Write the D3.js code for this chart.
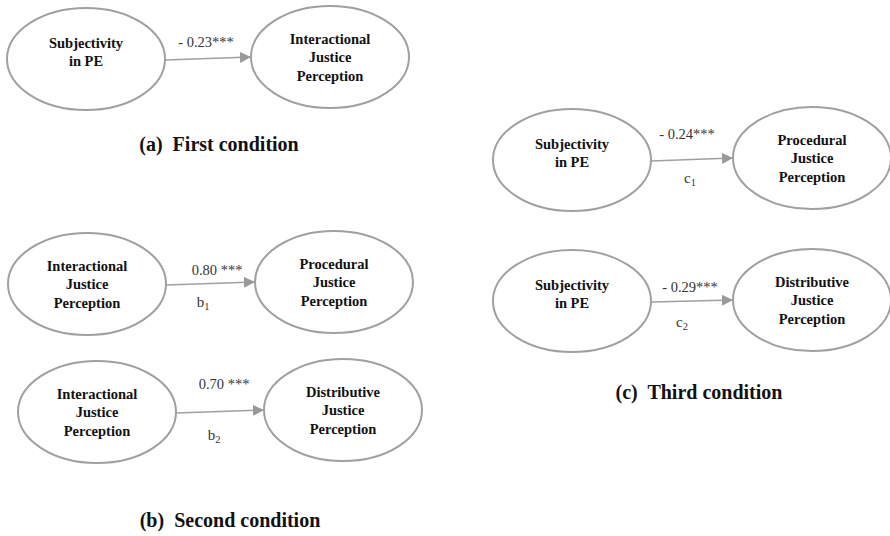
<!DOCTYPE html>
<html><head><meta charset="utf-8">
<script src="https://cdn.jsdelivr.net/npm/d3@7"></script>
<style>body{margin:0;background:#fff}svg{display:block}text{font-family:"Liberation Serif",serif}</style>
</head><body>
<script>
// ---- data ----
const sourceLabels = [["Subjectivity","in PE"],["Interactional","Justice","Perception"],["Interactional","Justice","Perception"],["Subjectivity","in PE"],["Subjectivity","in PE"]];
const targetLabels = [["Interactional","Justice","Perception"],["Procedural","Justice","Perception"],["Distributive","Justice","Perception"],["Procedural","Justice","Perception"],["Distributive","Justice","Perception"]];
const coefficients = ["- 0.23***","0.80 ***","0.70 ***","- 0.24***","- 0.29***"];
const pathNames = [null,["b","1"],["b","2"],["c","1"],["c","2"]];
const panelTitles = ["(a)  First condition","(b)  Second condition","(c)  Third condition"];

// ---- layout (kept separate from data) ----
const layout = [
  {sx:86, sy:59, tx:330, ty:57, lx:206, ly:47, px:null, py:null},
  {sx:87, sy:284, tx:334, ty:282, lx:217, ly:275, px:203, py:307},
  {sx:97, sy:412, tx:343, ty:410, lx:224, ly:389, px:214, py:440},
  {sx:572, sy:160, tx:812, ty:158, lx:687, ly:139, px:690, py:183},
  {sx:572, sy:301, tx:812, ty:300, lx:690, ly:292, px:682, py:327}
];
const titlePos = [{x:219,y:151},{x:230,y:527},{x:699,y:399}];
const RX = 79, RY = 51;

const W = 890, H = 536;
const svg = d3.select("body").append("svg").attr("width",W).attr("height",H);
const defs = svg.append("defs");
defs.append("marker").attr("id","arr").attr("viewBox","0 0 10 10").attr("refX",10).attr("refY",5)
  .attr("markerWidth",11).attr("markerHeight",11).attr("markerUnits","userSpaceOnUse").attr("orient","auto")
  .append("path").attr("d","M0,0L10,5L0,10Z").attr("fill","#999");

const gray = "#a0a0a0";

const models = coefficients.map((c,i)=>({coef:c, src:sourceLabels[i], tgt:targetLabels[i], name:pathNames[i], L:layout[i]}));

const g = svg.selectAll("g.model").data(models).enter().append("g").attr("class","model");

function node(sel, cx, cy, lines){
  sel.append("ellipse").attr("cx",cx).attr("cy",cy).attr("rx",RX).attr("ry",RY)
    .attr("fill","#fff").attr("stroke",gray).attr("stroke-width",2);
  const n = lines.length, lh = 18.5;
  const t = sel.append("text").attr("font-weight","bold").attr("font-size",14.5)
    .attr("text-anchor","middle").attr("fill","#111");
  lines.forEach((ln,k)=>{
    t.append("tspan").attr("x",cx).attr("y", cy + (k-(n-1)/2)*lh - (n===2?7:0) + 5).text(ln);
  });
}

g.each(function(d){
  const s = d3.select(this), L = d.L;
  node(s, L.sx, L.sy, d.src);
  node(s, L.tx, L.ty, d.tgt);
  s.append("line").attr("x1",L.sx+RX).attr("y1",L.sy+1).attr("x2",L.tx-RX).attr("y2",L.ty)
    .attr("stroke",gray).attr("stroke-width",1.5).attr("marker-end","url(#arr)");
  s.append("text").attr("x",L.lx).attr("y",L.ly).attr("text-anchor","middle")
    .attr("font-size",14.5).attr("fill","#333").text(d.coef);
  if(d.name){
    const t = s.append("text").attr("x",L.px).attr("y",L.py).attr("text-anchor","middle")
      .attr("font-size",15).attr("fill","#333");
    t.append("tspan").text(d.name[0]);
    t.append("tspan").attr("font-size",10.5).attr("dy",3).text(d.name[1]);
  }
});

svg.selectAll("text.title").data(panelTitles).enter().append("text").attr("class","title")
  .attr("x",(d,i)=>titlePos[i].x).attr("y",(d,i)=>titlePos[i].y).attr("text-anchor","middle")
  .attr("font-weight","bold").attr("font-size",20).attr("fill","#111")
  .style("white-space","pre").text(d=>d);
</script>
</body></html>
